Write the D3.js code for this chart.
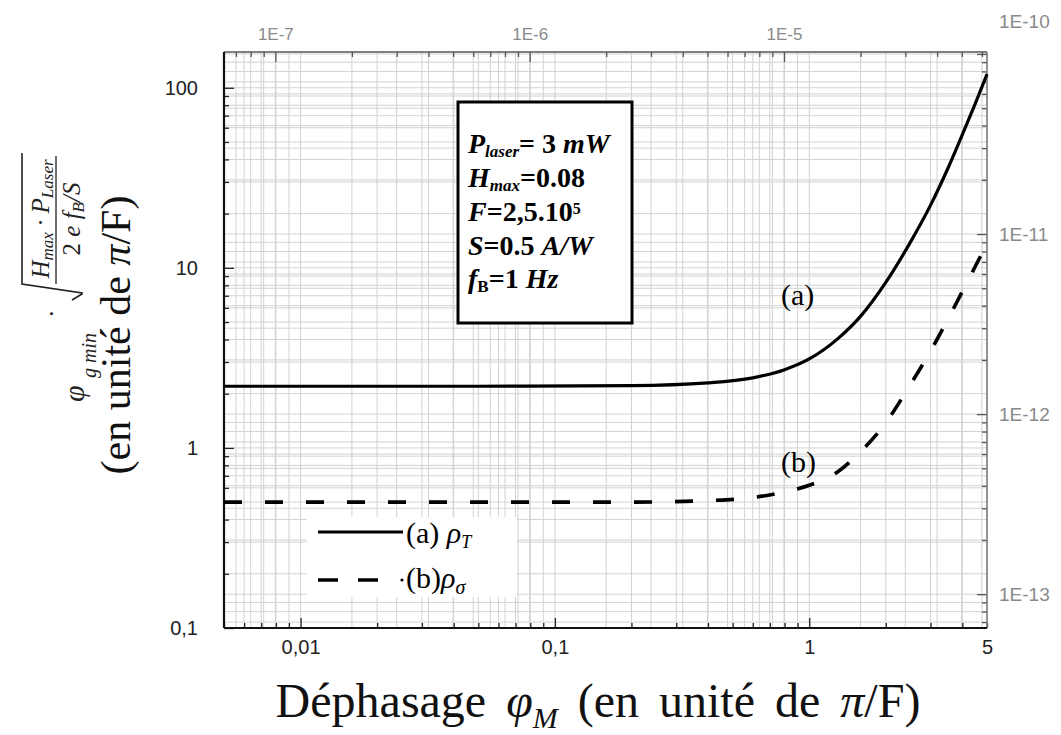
<!DOCTYPE html>
<html><head><meta charset="utf-8">
<script src="https://cdn.jsdelivr.net/npm/d3@7"></script>
<style>body{margin:0;background:#fff}</style>
</head><body><svg id="c" width="1061" height="735"></svg>
<script>
// ---- data ----
const xTickValues = [0.01, 0.1, 1, 5];
const xTickLabels = ["0,01", "0,1", "1", "5"];
const yTickValues = [0.1, 1, 10, 100];
const yTickLabels = ["0,1", "1", "10", "100"];
const topTickValues = [1e-7, 1e-6, 1e-5];
const topTickLabels = ["1E-7", "1E-6", "1E-5"];
const rightTickValues = [1e-13, 1e-12, 1e-11, 1e-10];
const rightTickLabels = ["1E-13", "1E-12", "1E-11", "1E-10"];
const seriesAx = [0.005, 0.05, 0.2, 0.4, 0.6, 0.8, 1, 1.3, 1.6, 2, 2.5, 3, 3.5, 4, 4.5, 5];
const seriesAy = [2.2, 2.2, 2.22, 2.3, 2.45, 2.72, 3.12, 4.06, 5.43, 8.3, 13.9, 22.3, 35.4, 55, 82, 119];
const seriesBx = [0.005, 0.2, 0.4, 0.6, 0.8, 1, 1.3, 1.6, 2, 2.5, 3, 3.5, 4, 4.5, 4.8];
const seriesBy = [0.5, 0.5, 0.51, 0.53, 0.57, 0.62, 0.74, 0.96, 1.38, 2.25, 3.45, 5.15, 7.4, 10.2, 12.2];
const topFactor = Math.PI / 2.5e5;     // top axis = x * pi/F
const rightFactor = 6.49e-13;           // right axis = y * scale
const xDomain = [0.005, 5];
const yDomain = [0.1, 158];

// ---- layout ----
const L = 224, R = 987, T = 52, B = 628;
const svg = d3.select("#c");
const x = d3.scaleLog().domain(xDomain).range([L, R]);
const y = d3.scaleLog().domain(yDomain).range([B, T]);
const xTop = d3.scaleLog().domain(xDomain.map(d => d * topFactor)).range([L, R]);
const yRight = d3.scaleLog().domain(yDomain.map(d => d * rightFactor)).range([B, T]);

const gridCol = "#d2d2d2";
const grid = svg.append("g");
function vgrid(scale) {
  grid.selectAll(null).data(scale.ticks()).enter().append("line")
    .attr("x1", d => scale(d)).attr("x2", d => scale(d)).attr("y1", T).attr("y2", B)
    .attr("stroke", gridCol).attr("stroke-width", 1);
}
function hgrid(scale) {
  grid.selectAll(null).data(scale.ticks()).enter().append("line")
    .attr("y1", d => scale(d)).attr("y2", d => scale(d)).attr("x1", L).attr("x2", R)
    .attr("stroke", gridCol).attr("stroke-width", 1);
}
vgrid(x); vgrid(xTop); hgrid(y); hgrid(yRight);

// ---- axes ----
function isMajor(d) { const l = Math.log10(d); return Math.abs(l - Math.round(l)) < 1e-6; }
function addAxis(gen, scale, tr, labelsV, labelsT, col, fs, strokeCol, pad) {
  const minor = scale.ticks().filter(d => !isMajor(d));
  const major = scale.ticks().filter(d => isMajor(d));
  const g1 = svg.append("g").attr("transform", tr)
    .call(gen(scale).tickValues(minor).tickSize(-5).tickFormat(""));
  const g2 = svg.append("g").attr("transform", tr)
    .call(gen(scale).tickValues(major).tickSize(-10).tickFormat(""));
  const g3 = svg.append("g").attr("transform", tr)
    .call(gen(scale).tickValues(labelsV).tickSize(0).tickPadding(pad).tickFormat((d, i) => labelsT[i]));
  [g1, g2, g3].forEach(g => { g.select(".domain").remove(); g.selectAll("line").attr("stroke", strokeCol).attr("stroke-width", 1.3); });
  g3.selectAll("text").attr("fill", col).style("font-family", "Liberation Sans, Arial, sans-serif").style("font-size", fs + "px");
  return g3;
}
addAxis(d3.axisBottom, x, `translate(0,${B})`, xTickValues, xTickLabels, "#222", 20, "#222", 12);
addAxis(d3.axisLeft, y, `translate(${L},0)`, yTickValues, yTickLabels, "#222", 20, "#222", 26);
addAxis(d3.axisTop, xTop, `translate(0,${T})`, topTickValues, topTickLabels, "#8a8a8a", 17, "#555", 12);
const gr = addAxis(d3.axisRight, yRight, `translate(${R},0)`, rightTickValues, rightTickLabels, "#8a8a8a", 19, "#555", 12);
gr.selectAll(".tick").filter(d => d === 1e-10).select("text").attr("dy", "-1.4em");

// frame
svg.append("line").attr("x1", L).attr("x2", R).attr("y1", T).attr("y2", T).attr("stroke", "#555").attr("stroke-width", 1.5);
svg.append("line").attr("x1", R).attr("x2", R).attr("y1", T).attr("y2", B).attr("stroke", "#777").attr("stroke-width", 1.5);
svg.append("line").attr("x1", L).attr("x2", L).attr("y1", T).attr("y2", B).attr("stroke", "#111").attr("stroke-width", 2.2);
svg.append("line").attr("x1", L).attr("x2", R).attr("y1", B).attr("y2", B).attr("stroke", "#111").attr("stroke-width", 2.2);

// ---- curves ----
const line = d3.line().x(d => x(d[0])).y(d => y(d[1])).curve(d3.curveMonotoneX);
svg.append("path").datum(seriesAx.map((v, i) => [v, seriesAy[i]]))
  .attr("d", line).attr("fill", "none").attr("stroke", "#000").attr("stroke-width", 3.2);
svg.append("path").datum(seriesBx.map((v, i) => [v, seriesBy[i]]))
  .attr("d", line).attr("fill", "none").attr("stroke", "#000").attr("stroke-width", 3.6)
  .attr("stroke-dasharray", "18,23");

const serif = "Liberation Serif, Times New Roman, serif";
svg.append("text").attr("x", 781).attr("y", 305).text("(a)").style("font-family", serif).style("font-size", "30px");
svg.append("text").attr("x", 781).attr("y", 472).text("(b)").style("font-family", serif).style("font-size", "30px");

// ---- annotation box ----
svg.append("rect").attr("x", 458).attr("y", 102).attr("width", 174).attr("height", 221)
  .attr("fill", "#fff").attr("stroke", "#000").attr("stroke-width", 3);
const ann = svg.append("g").style("font-family", serif).style("font-weight", "bold").style("font-size", "28px");
function annLine(yy, parts) {
  const t = ann.append("text").attr("x", 468).attr("y", yy);
  parts.forEach(p => {
    const s = t.append("tspan").text(p.t);
    if (p.i) s.style("font-style", "italic");
    if (p.sub) s.attr("baseline-shift", "-25%").style("font-size", "17px");
    if (p.sup) s.attr("baseline-shift", "45%").style("font-size", "16px");
  });
}
annLine(153, [{ t: "P", i: 1 }, { t: "laser", i: 1, sub: 1 }, { t: "= 3 " }, { t: "mW", i: 1 }]);
annLine(187, [{ t: "H", i: 1 }, { t: "max", i: 1, sub: 1 }, { t: "=0.08" }]);
annLine(221, [{ t: "F", i: 1 }, { t: "=2,5.10" }, { t: "5", sup: 1 }]);
annLine(255, [{ t: "S", i: 1 }, { t: "=0.5 " }, { t: "A/W", i: 1 }]);
annLine(288, [{ t: "f", i: 1 }, { t: "B", sub: 1 }, { t: "=1 " }, { t: "Hz", i: 1 }]);

// ---- legend ----
svg.append("rect").attr("x", 307).attr("y", 517).attr("width", 210).attr("height", 80).attr("fill", "#fff");
svg.append("line").attr("x1", 318).attr("x2", 403).attr("y1", 532).attr("y2", 532).attr("stroke", "#000").attr("stroke-width", 3.2);
svg.append("line").attr("x1", 318).attr("x2", 380).attr("y1", 580).attr("y2", 580).attr("stroke", "#000").attr("stroke-width", 3.6).attr("stroke-dasharray", "20,20");
svg.append("circle").attr("cx", 402).attr("cy", 580).attr("r", 1.6).attr("fill", "#000");
const lg1 = svg.append("text").attr("x", 406).attr("y", 543).style("font-family", serif).style("font-size", "30px");
lg1.append("tspan").text("(a) ");
lg1.append("tspan").text("ρ").style("font-style", "italic");
lg1.append("tspan").text("T").style("font-style", "italic").style("font-size", "18px").attr("baseline-shift", "-30%");
const lg2 = svg.append("text").attr("x", 406).attr("y", 588).style("font-family", serif).style("font-size", "30px");
lg2.append("tspan").text("(b)");
lg2.append("tspan").text("ρ").style("font-style", "italic");
lg2.append("tspan").text("σ").style("font-style", "italic").style("font-size", "20px").attr("baseline-shift", "-30%");

// ---- x title ----
const xt = svg.append("text").attr("x", 598).attr("y", 717).attr("text-anchor", "middle")
  .style("font-family", serif).style("font-size", "48px").style("word-spacing", "8px").attr("fill", "#111");
xt.append("tspan").text("Déphasage ");
xt.append("tspan").text("φ").style("font-style", "italic");
xt.append("tspan").text("M").style("font-style", "italic").style("font-size", "30px").attr("baseline-shift", "-35%");
xt.append("tspan").text(" (en unité de ");
xt.append("tspan").text("π").style("font-style", "italic");
xt.append("tspan").text("/F)");

// ---- y title ----
const yt = svg.append("text").attr("transform", "translate(130,335) rotate(-90)").attr("text-anchor", "middle")
  .style("font-family", serif).style("font-size", "42px").attr("fill", "#111");
yt.append("tspan").text("(en unité de ");
yt.append("tspan").text("π").style("font-style", "italic");
yt.append("tspan").text("/F)");

function rtext(sx, sy, str, size, italic) {
  return svg.append("text").attr("transform", `translate(${sx},${sy}) rotate(-90)`)
    .style("font-family", serif).style("font-size", size + "px").style("font-style", italic ? "italic" : "normal")
    .attr("fill", "#222").text(str);
}
rtext(84, 402, "φ", 30, true);
rtext(96, 378, "g min", 20, true);
rtext(60, 318, "·", 26, false);
// radical
svg.append("path").attr("d", "M72,300 L82,294 L82,293 L22,284 L22,153").attr("fill", "none").attr("stroke", "#222").attr("stroke-width", 1.6);
// fraction
const num = svg.append("text").attr("transform", "translate(49,219) rotate(-90)").attr("text-anchor", "middle")
  .style("font-family", serif).style("font-size", "25px").style("font-style", "italic").attr("fill", "#222");
num.append("tspan").text("H");
num.append("tspan").text("max").style("font-size", "17px").attr("baseline-shift", "-25%");
num.append("tspan").text(" · P");
num.append("tspan").text("Laser").style("font-size", "17px").attr("baseline-shift", "-25%");
svg.append("line").attr("x1", 56).attr("x2", 56).attr("y1", 284).attr("y2", 156).attr("stroke", "#222").attr("stroke-width", 1.3);
const den = svg.append("text").attr("transform", "translate(80,219) rotate(-90)").attr("text-anchor", "middle")
  .style("font-family", serif).style("font-size", "25px").style("font-style", "italic").attr("fill", "#222");
den.append("tspan").text("2").style("font-style", "normal");
den.append("tspan").text(" e f");
den.append("tspan").text("B").style("font-size", "17px").attr("baseline-shift", "-25%");
den.append("tspan").text("/S");
</script></body></html>
